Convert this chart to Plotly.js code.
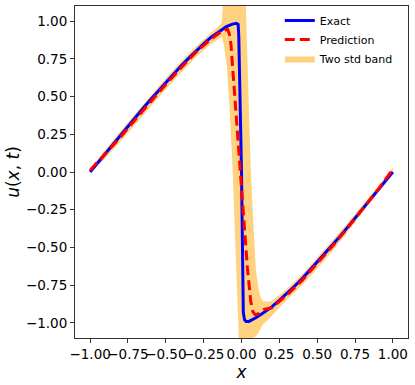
<!DOCTYPE html>
<html>
<head>
<meta charset="utf-8">
<script src="https://cdn.plot.ly/plotly-3.0.1.min.js"></script>
<style>html,body{margin:0;padding:0;background:#fff;}#chart{width:415px;height:385px;}</style>
</head>
<body>
<div id="chart"></div>
<script>
// Exact solution (blue)
const exactX = [-1.0,-0.95,-0.9,-0.85,-0.8,-0.75,-0.7,-0.65,-0.6,-0.55,-0.5,-0.45,-0.4,-0.35,-0.3,-0.25,-0.2,-0.15,-0.1,-0.06,-0.035,-0.022,-0.018,0.0,0.012,0.02,0.03,0.05,0.08,0.1,0.15,0.2,0.25,0.3,0.35,0.4,0.45,0.5,0.55,0.6,0.65,0.7,0.75,0.8,0.85,0.9,0.95,1.0];
const exactU = [0.0,0.061,0.122,0.183,0.243,0.303,0.362,0.422,0.48,0.537,0.594,0.648,0.703,0.753,0.804,0.849,0.894,0.931,0.963,0.98,0.985,0.978,0.9,0.0,-0.93,-0.98,-0.99,-0.99,-0.975,-0.963,-0.93,-0.894,-0.85,-0.806,-0.757,-0.708,-0.653,-0.598,-0.542,-0.484,-0.427,-0.367,-0.307,-0.246,-0.186,-0.124,-0.062,0.0];
// Prediction (red dashed)
const predX = [-1.0,-0.9,-0.8,-0.7,-0.6,-0.5,-0.4,-0.3,-0.2,-0.15,-0.12,-0.092,-0.08,-0.07,-0.059,-0.044,-0.026,-0.009,0.0,0.018,0.039,0.061,0.075,0.09,0.11,0.127,0.15,0.2,0.3,0.4,0.5,0.6,0.7,0.8,0.9,1.0];
const predU = [0.012,0.118,0.23,0.35,0.467,0.58,0.69,0.795,0.882,0.92,0.94,0.945,0.915,0.85,0.70,0.477,0.257,0.035,-0.06,-0.305,-0.636,-0.856,-0.925,-0.945,-0.94,-0.925,-0.91,-0.9,-0.815,-0.718,-0.607,-0.492,-0.372,-0.247,-0.12,0.018];
// Two std band
const bandX = [-1.0,-0.9,-0.8,-0.7,-0.6,-0.5,-0.4,-0.3,-0.2,-0.15,-0.13,-0.118,-0.097,-0.08,-0.059,-0.04,-0.022,-0.01,0.0,0.028,0.045,0.061,0.078,0.094,0.11,0.123,0.14,0.17,0.2,0.3,0.4,0.5,0.6,0.7,0.8,0.9,1.0];
const bandUpper = [0.024,0.15,0.27,0.39,0.508,0.622,0.732,0.834,0.924,0.965,0.99,1.2,1.3,1.3,1.3,1.3,1.3,1.3,1.3,1.12,0.57,0.026,-0.33,-0.636,-0.76,-0.82,-0.855,-0.86,-0.855,-0.775,-0.68,-0.57,-0.455,-0.34,-0.22,-0.095,0.03];
const bandLower = [0.0,0.09,0.2,0.318,0.435,0.548,0.657,0.762,0.85,0.885,0.895,0.85,0.7,0.45,0.03,-0.5,-1.08,-1.3,-1.3,-1.3,-1.25,-1.15,-1.1,-1.09,-1.07,-1.04,-1.01,-0.985,-0.955,-0.845,-0.75,-0.64,-0.525,-0.4,-0.27,-0.135,0.006];
const xTicks = [-1.0,-0.75,-0.5,-0.25,0.0,0.25,0.5,0.75,1.0];
const yTicks = [-1.0,-0.75,-0.5,-0.25,0.0,0.25,0.5,0.75,1.0];

const font = 'DejaVu Sans, sans-serif';
const traces = [
  {x: bandX, y: bandLower, mode: 'lines', line: {width: 0, color: 'rgba(255,165,0,0)'}, showlegend: false, hoverinfo: 'skip'},
  {x: bandX, y: bandUpper, mode: 'lines', fill: 'tonexty', fillcolor: 'rgba(255,165,0,0.5)', line: {width: 0, color: 'rgba(255,165,0,0)'}, name: 'Two std band', legendrank: 3},
  {x: exactX, y: exactU, mode: 'lines', line: {color: '#0000ff', width: 3}, name: 'Exact', legendrank: 1},
  {x: predX, y: predU, mode: 'lines', line: {color: '#ff0000', width: 3, dash: '10px,5px'}, name: 'Prediction', legendrank: 2}
];
const axisCommon = {
  showgrid: false, zeroline: false, showline: true, mirror: true,
  linecolor: '#333', linewidth: 1, ticks: 'outside', ticklen: 4, tickwidth: 1, tickcolor: '#333',
  tickfont: {family: font, size: 13.5, color: '#000'}, tickformat: '.2f', tickangle: 0
};
const layout = {
  width: 415, height: 385,
  margin: {l: 75, r: 7, t: 6, b: 47},
  paper_bgcolor: '#fff', plot_bgcolor: '#fff',
  showlegend: true,
  legend: {x: 0.615, xanchor: 'left', y: 1, yanchor: 'top', bgcolor: 'rgba(0,0,0,0)', borderwidth: 0,
           traceorder: 'normal', font: {family: font, size: 11, color: '#000'}},
  xaxis: Object.assign({}, axisCommon, {range: [-1.1, 1.1], tickvals: xTicks,
    title: {text: '<i>x</i>', font: {family: font, size: 17, color: '#000'}, standoff: 1}}),
  yaxis: Object.assign({}, axisCommon, {range: [-1.1, 1.1], tickvals: yTicks,
    title: {text: '<i>u</i>(<i>x</i>, <i>t</i>)', font: {family: font, size: 17, color: '#000'}, standoff: 1}})
};
Plotly.newPlot('chart', traces, layout, {displayModeBar: false, staticPlot: true});
</script>
</body>
</html>
